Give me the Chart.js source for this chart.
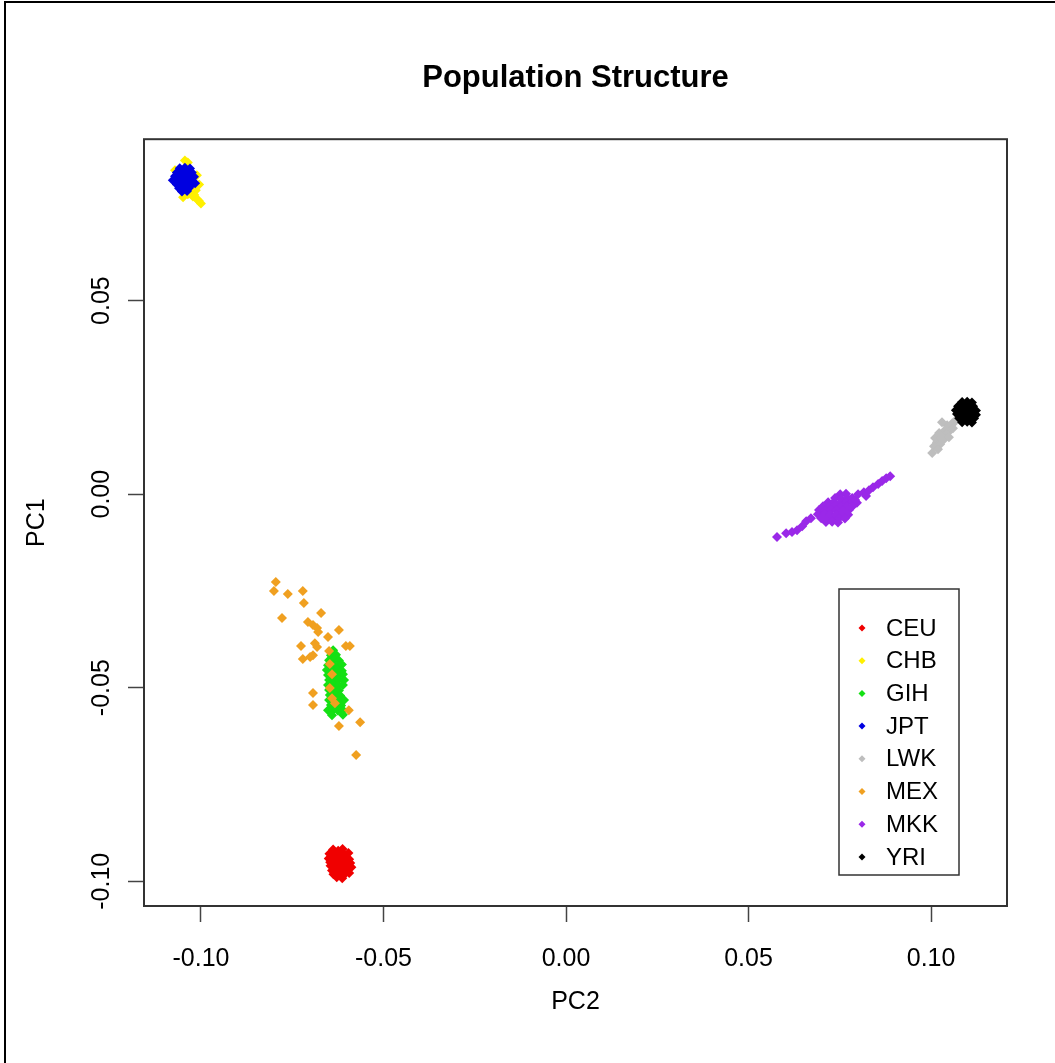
<!DOCTYPE html>
<html lang="en">
<head>
<meta charset="UTF-8">
<title>Population Structure</title>
<script src="https://cdn.jsdelivr.net/npm/chart.js"></script>
<style>
    body { margin: 0; background: #fff; }
    canvas { display: block; }
</style>
</head>
<body>
<canvas id="pcaChart" width="1055" height="1063"></canvas>
<script>
// population labels, in legend order
const populations = ['CEU', 'CHB', 'GIH', 'JPT', 'LWK', 'MEX', 'MKK', 'YRI'];

// tick values for both axes
const xTicks = [-0.10, -0.05, 0.00, 0.05, 0.10];
const yTicks = [-0.10, -0.05, 0.00, 0.05];

// [PC2, PC1] per sample
const CEU = [
    [-0.0638,-0.0918],[-0.0624,-0.0921],[-0.0612,-0.0917],
    [-0.0648,-0.0929],[-0.0633,-0.0931],[-0.0620,-0.0928],[-0.0606,-0.0932],[-0.0596,-0.0927],
    [-0.0650,-0.0941],[-0.0636,-0.0938],[-0.0621,-0.0942],[-0.0609,-0.0939],[-0.0594,-0.0943],
    [-0.0646,-0.0951],[-0.0634,-0.0949],[-0.0618,-0.0952],[-0.0604,-0.0948],[-0.0591,-0.0953],
    [-0.0645,-0.0960],[-0.0629,-0.0963],[-0.0617,-0.0959],[-0.0602,-0.0962],[-0.0588,-0.0964],
    [-0.0641,-0.0972],[-0.0627,-0.0970],[-0.0613,-0.0973],[-0.0599,-0.0969],
    [-0.0637,-0.0982],[-0.0621,-0.0980],[-0.0608,-0.0983],[-0.0594,-0.0979],
    [-0.0628,-0.0990],[-0.0613,-0.0992],
    [-0.0627,-0.0945],[-0.0611,-0.0966],[-0.0638,-0.0955]
];
const CHB = [
    [-0.1044,0.0862],[-0.1036,0.0857],[-0.1011,0.0824],[-0.1005,0.0800],[-0.1014,0.0785],
    [-0.1036,0.0775],[-0.1022,0.0769],[-0.1011,0.0762],[-0.1000,0.0751],[-0.1049,0.0767],
    [-0.1071,0.0837],[-0.1052,0.0815],[-0.1040,0.0805],[-0.1058,0.0795],[-0.1028,0.0778],
    [-0.1018,0.0773],[-0.1006,0.0758],[-0.1030,0.0830]
];
const GIH = [
    [-0.0638,-0.0403],
    [-0.0644,-0.0416],[-0.0630,-0.0415],
    [-0.0649,-0.0429],[-0.0636,-0.0428],[-0.0622,-0.0430],
    [-0.0652,-0.0442],[-0.0638,-0.0441],[-0.0625,-0.0443],[-0.0614,-0.0440],
    [-0.0655,-0.0454],[-0.0641,-0.0455],[-0.0627,-0.0453],[-0.0614,-0.0456],
    [-0.0652,-0.0467],[-0.0638,-0.0466],[-0.0625,-0.0468],[-0.0611,-0.0465],
    [-0.0649,-0.0480],[-0.0636,-0.0481],[-0.0622,-0.0479],[-0.0608,-0.0480],
    [-0.0652,-0.0493],[-0.0638,-0.0492],[-0.0625,-0.0494],[-0.0611,-0.0493],
    [-0.0649,-0.0506],[-0.0636,-0.0505],[-0.0622,-0.0507],
    [-0.0647,-0.0519],[-0.0633,-0.0518],[-0.0619,-0.0520],
    [-0.0649,-0.0532],[-0.0636,-0.0531],[-0.0622,-0.0533],[-0.0608,-0.0532],
    [-0.0644,-0.0545],[-0.0630,-0.0544],[-0.0616,-0.0546],
    [-0.0652,-0.0558],[-0.0638,-0.0557],[-0.0625,-0.0559],[-0.0611,-0.0558],
    [-0.0641,-0.0571],[-0.0611,-0.0570]
];
const JPT = [
    [-0.1058,0.0842],[-0.1044,0.0843],[-0.1030,0.0841],
    [-0.1066,0.0831],[-0.1052,0.0832],[-0.1038,0.0830],[-0.1025,0.0831],
    [-0.1071,0.0821],[-0.1058,0.0820],[-0.1044,0.0822],[-0.1030,0.0821],[-0.1019,0.0820],
    [-0.1068,0.0811],[-0.1055,0.0812],[-0.1041,0.0810],[-0.1027,0.0811],
    [-0.1066,0.0800],[-0.1052,0.0801],[-0.1038,0.0799],[-0.1025,0.0800],
    [-0.1060,0.0790],[-0.1047,0.0789],[-0.1033,0.0791],
    [-0.1052,0.0782],[-0.1038,0.0783],
    [-0.1077,0.0811],[-0.1016,0.0803]
];
const LWK = [
    [0.1008,0.0124],[0.1016,0.0134],[0.1011,0.0145],[0.1025,0.0129],[0.1027,0.0145],
    [0.1036,0.0152],[0.1022,0.0158],[0.1038,0.0165],[0.1047,0.0160],[0.1052,0.0173],
    [0.1044,0.0178],[0.1058,0.0183],[0.1066,0.0188],[0.1060,0.0170],[0.1071,0.0194],
    [0.1033,0.0139],[0.1049,0.0147],[0.1019,0.0116],[0.1003,0.0106],[0.1030,0.0186]
];
const MEX = [
    [-0.0795,-0.0227],[-0.0800,-0.0250],[-0.0762,-0.0258],[-0.0721,-0.0250],[-0.0718,-0.0281],
    [-0.0671,-0.0307],[-0.0778,-0.0320],[-0.0707,-0.0330],[-0.0693,-0.0338],[-0.0682,-0.0346],
    [-0.0679,-0.0356],[-0.0622,-0.0351],[-0.0652,-0.0369],[-0.0688,-0.0385],[-0.0682,-0.0395],
    [-0.0726,-0.0392],[-0.0649,-0.0405],[-0.0603,-0.0392],[-0.0592,-0.0392],[-0.0693,-0.0416],
    [-0.0701,-0.0421],[-0.0721,-0.0426],[-0.0647,-0.0439],[-0.0641,-0.0465],[-0.0647,-0.0501],
    [-0.0693,-0.0514],[-0.0641,-0.0527],[-0.0693,-0.0545],[-0.0633,-0.0540],[-0.0595,-0.0558],
    [-0.0564,-0.0589],[-0.0622,-0.0599],[-0.0575,-0.0674]
];
const MKK = [
    [0.0578,-0.0111],[0.0603,-0.0101],[0.0619,-0.0098],[0.0633,-0.0093],[0.0647,-0.0083],
    [0.0658,-0.0070],[0.0671,-0.0062],
    [0.0751,0.0000],[0.0767,0.0001],
    [0.0737,-0.0010],[0.0753,-0.0011],[0.0770,-0.0009],[0.0784,-0.0010],
    [0.0718,-0.0021],[0.0734,-0.0020],[0.0751,-0.0022],[0.0767,-0.0021],[0.0784,-0.0020],[0.0797,-0.0022],
    [0.0704,-0.0031],[0.0721,-0.0032],[0.0737,-0.0030],[0.0753,-0.0031],[0.0770,-0.0032],[0.0786,-0.0030],
    [0.0693,-0.0041],[0.0710,-0.0042],[0.0726,-0.0040],[0.0742,-0.0041],[0.0759,-0.0043],[0.0775,-0.0041],
    [0.0690,-0.0052],[0.0707,-0.0051],[0.0723,-0.0053],[0.0740,-0.0052],[0.0756,-0.0051],[0.0773,-0.0053],
    [0.0699,-0.0062],[0.0715,-0.0063],[0.0732,-0.0061],[0.0748,-0.0062],[0.0764,-0.0063],
    [0.0712,-0.0072],[0.0729,-0.0071],[0.0745,-0.0073],
    [0.0792,-0.0015],[0.0800,0.0000],[0.0816,0.0005],[0.0822,-0.0005],[0.0830,0.0010],
    [0.0841,0.0018],[0.0855,0.0026],[0.0866,0.0034],[0.0877,0.0041],[0.0888,0.0046]
];
const YRI = [
    [0.1085,0.0238],[0.1099,0.0239],[0.1112,0.0237],
    [0.1074,0.0227],[0.1088,0.0228],[0.1101,0.0226],[0.1115,0.0227],
    [0.1068,0.0217],[0.1082,0.0216],[0.1096,0.0218],[0.1110,0.0217],[0.1123,0.0216],
    [0.1071,0.0207],[0.1085,0.0206],[0.1099,0.0208],[0.1112,0.0207],[0.1123,0.0205],
    [0.1077,0.0196],[0.1090,0.0197],[0.1104,0.0195],[0.1118,0.0196],
    [0.1085,0.0186],[0.1099,0.0187],[0.1112,0.0185]
];

const samples = [CEU, CHB, GIH, JPT, LWK, MEX, MKK, YRI];
const colors = ['#f00000', '#fff000', '#14e014', '#0000e0', '#bebebe', '#f0a020', '#9a28e8', '#000000'];

const FONT = '"Liberation Sans", Arial, sans-serif';

// frame around the figure, box around the plot region, legend in the lower right
const decorations = {
    id: 'decorations',
    beforeDraw(chart) {
        const ctx = chart.ctx;
        ctx.save();
        ctx.fillStyle = '#fff';
        ctx.fillRect(0, 0, chart.width, chart.height);
        ctx.strokeStyle = '#000';
        ctx.lineWidth = 2;
        ctx.beginPath();
        ctx.moveTo(5, chart.height);
        ctx.lineTo(5, 2);
        ctx.lineTo(chart.width, 2);
        ctx.stroke();
        ctx.restore();
    },
    afterDatasetsDraw(chart) {
        const ctx = chart.ctx;
        const a = chart.chartArea;
        ctx.save();
        ctx.strokeStyle = '#333';
        ctx.lineWidth = 2;
        ctx.strokeRect(a.left, a.top, a.right - a.left, a.bottom - a.top);

        // legend
        const lx = 839, ly = 589, lw = 120, lh = 286;
        ctx.fillStyle = '#fff';
        ctx.fillRect(lx, ly, lw, lh);
        ctx.lineWidth = 1.5;
        ctx.strokeRect(lx, ly, lw, lh);
        ctx.font = '24px ' + FONT;
        ctx.textBaseline = 'middle';
        chart.data.datasets.forEach((ds, i) => {
            const y = 628 + i * 32.7;
            ctx.fillStyle = ds.backgroundColor;
            ctx.beginPath();
            ctx.moveTo(862 - 3.5, y);
            ctx.lineTo(862, y - 3.5);
            ctx.lineTo(862 + 3.5, y);
            ctx.lineTo(862, y + 3.5);
            ctx.closePath();
            ctx.fill();
            ctx.fillStyle = '#000';
            ctx.fillText(ds.label, 886, y + 1);
        });
        ctx.restore();
    }
};

new Chart(document.getElementById('pcaChart'), {
    type: 'scatter',
    data: {
        datasets: populations.map((name, i) => ({
            label: name,
            data: samples[i].map(p => ({ x: p[0], y: p[1] })),
            backgroundColor: colors[i],
            borderColor: colors[i],
            borderWidth: 0,
            pointStyle: 'rectRot',
            pointRadius: 5,
            // later populations are painted over earlier ones
            order: populations.length - i
        }))
    },
    options: {
        responsive: false,
        animation: false,
        events: [],
        devicePixelRatio: 1,
        layout: { padding: { left: 0, right: 48, top: 0, bottom: 0 } },
        plugins: {
            legend: { display: false },
            tooltip: { enabled: false },
            title: {
                display: true,
                text: 'Population Structure',
                fullSize: false,
                color: '#000',
                font: { family: FONT, size: 31, weight: 'bold' },
                padding: { top: 60, bottom: 42 }
            }
        },
        scales: {
            x: {
                type: 'linear',
                min: -0.1156,
                max: 0.1208,
                afterBuildTicks: s => { s.ticks = xTicks.map(v => ({ value: v })); },
                afterFit: s => { s.height = 157; },
                grid: { drawOnChartArea: false, drawTicks: true, tickLength: 16, tickColor: '#444', tickWidth: 1.5 },
                border: { display: false },
                ticks: {
                    color: '#000',
                    padding: 22,
                    font: { family: FONT, size: 25 },
                    callback: v => Number(v).toFixed(2)
                },
                title: {
                    display: true,
                    text: 'PC2',
                    color: '#000',
                    font: { family: FONT, size: 25 },
                    padding: { top: 0, bottom: 46 }
                }
            },
            y: {
                type: 'linear',
                min: -0.1064,
                max: 0.0917,
                afterBuildTicks: s => { s.ticks = yTicks.map(v => ({ value: v })); },
                afterFit: s => { s.width = 144; },
                grid: { drawOnChartArea: false, drawTicks: true, tickLength: 16, tickColor: '#444', tickWidth: 1.5 },
                border: { display: false },
                ticks: {
                    color: '#000',
                    padding: -3,
                    minRotation: 90,
                    maxRotation: 90,
                    crossAlign: 'center',
                    font: { family: FONT, size: 25 },
                    callback: v => Number(v).toFixed(2)
                },
                title: {
                    display: true,
                    text: 'PC1',
                    color: '#000',
                    font: { family: FONT, size: 25 },
                    padding: { top: 22, bottom: 0 }
                }
            }
        }
    },
    plugins: [decorations]
});
</script>
</body>
</html>
